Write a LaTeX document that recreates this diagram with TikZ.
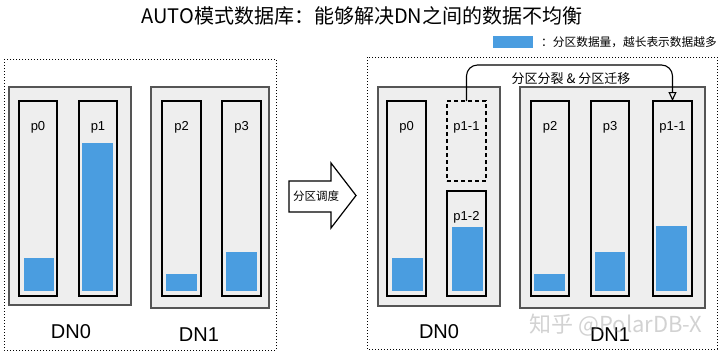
\documentclass[tikz,border=0pt]{standalone}
\usepackage{fontspec}
\setmainfont{Liberation Sans}
\newfontfamily\cjk{Noto Sans CJK SC}
\usetikzlibrary{arrows.meta,calc}
\definecolor{boxfill}{HTML}{EEEEEE}
\definecolor{dnline}{HTML}{555555}
\definecolor{barblue}{HTML}{4A9DE0}
\tikzset{
  outerbox/.style={draw=black, line width=1pt, dash pattern=on 1pt off 2pt},
  dnbox/.style={draw=dnline, fill=boxfill, line width=1.4pt},
  colbox/.style={draw=black, fill=boxfill, line width=1.4pt},
  colboxdash/.style={draw=black, fill=boxfill, line width=1.4pt, dash pattern=on 4pt off 3pt},
  bar/.style={fill=barblue},
  plabel/.style={font=\fontsize{13}{15}\selectfont, inner sep=0pt},
  dnlabel/.style={font=\fontsize{20}{24}\selectfont, inner sep=0pt},
  cjklabel/.style={font=\cjk\fontsize{13}{15}\selectfont, inner sep=0pt},
}
\begin{document}
\begin{tikzpicture}[x=1pt,y=-1pt]
\useasboundingbox (0,0) rectangle (720,354);
\fill[white] (0,0) rectangle (720,354);
% title
\node[font=\cjk\fontsize{20}{24}\selectfont, inner sep=0pt] (title) at (362,16) {AUTO模式数据库：能够解决DN之间的数据不均衡};
% legend
\fill[bar] (493,36) rectangle (533,48);
\node[font=\cjk\fontsize{11.7}{14}\selectfont, inner sep=0pt, anchor=west] (legend) at (541,42) {：分区数据量，越长表示数据越多};

% ---------- left ----------
\draw[outerbox] (4,59) rectangle (276,350);
\draw[dnbox] (9,87) rectangle (131,305);
\draw[dnbox] (151,87) rectangle (269,308);
\draw[colbox] (19,101) rectangle (57,296);
\draw[colbox] (79,101) rectangle (117,296);
\draw[colbox] (162,101) rectangle (201,296);
\draw[colbox] (222,101) rectangle (261,296);
\fill[bar] (24,258) rectangle (54,291);
\fill[bar] (82,143) rectangle (113,291);
\fill[bar] (166,274) rectangle (197,291);
\fill[bar] (226,252) rectangle (257,291);
\node[plabel] (lp0) at (38,127) {p0};
\node[plabel] (lp1) at (98,127) {p1};
\node[plabel] (lp2) at (181.5,127) {p2};
\node[plabel] (lp3) at (241.5,127) {p3};
\node[dnlabel] (ldn0) at (71,332) {DN0};
\node[dnlabel] (ldn1) at (199,335) {DN1};

% ---------- big arrow ----------
\draw[line width=1.2pt, fill=white, line join=miter]
  (289,181) -- (331,181) -- (331,163) -- (356,195.5) -- (331,228) -- (331,212) -- (289,212) -- cycle;
\node[font=\cjk\fontsize{11.5}{14}\selectfont, inner sep=0pt] (sched) at (316,196) {分区调度};

% ---------- right ----------
\draw[outerbox] (367,57) rectangle (717,349);
\draw[dnbox] (378,87) rectangle (500,306);
\draw[dnbox] (520,87) rectangle (705,308);
\node[colbox, anchor=north west, minimum width=39, minimum height=195, inner sep=0pt, outer sep=0pt] (rp0) at (387,101) {};
\node[colboxdash, anchor=north west, minimum width=39, minimum height=80, inner sep=0pt, outer sep=0pt] (rp11d) at (447,101) {};
\node[colbox, anchor=north west, minimum width=39, minimum height=105, inner sep=0pt, outer sep=0pt] (rp12) at (447,191) {};
\node[colbox, anchor=north west, minimum width=38, minimum height=195, inner sep=0pt, outer sep=0pt] (rp2) at (531,101) {};
\node[colbox, anchor=north west, minimum width=38, minimum height=195, inner sep=0pt, outer sep=0pt] (rp3) at (591,101) {};
\node[colbox, anchor=north west, minimum width=39, minimum height=195, inner sep=0pt, outer sep=0pt] (rp11) at (653,101) {};
\fill[bar] (392,258) rectangle (423,291);
\fill[bar] (452,227) rectangle (483,291);
\fill[bar] (534,274) rectangle (565,291);
\fill[bar] (595,252) rectangle (625,291);
\fill[bar] (656,226) rectangle (687,291);
\node[plabel] (rlp0) at (406.5,127) {p0};
\node[plabel] (rlp11d) at (466.5,127) {p1-1};
\node[plabel] (rlp12) at (466.5,217) {p1-2};
\node[plabel] (rlp2) at (550,127) {p2};
\node[plabel] (rlp3) at (610,127) {p3};
\node[plabel] (rlp11) at (672.5,127) {p1-1};
\node[dnlabel] (rdn0) at (439,332) {DN0};
\node[dnlabel] (rdn1) at (610,335) {DN1};

% migration connector
\coordinate (mtop) at (570,65);
\draw[line width=1.1pt, rounded corners=11pt, -{Triangle[open, length=9pt, width=8pt]}]
  (rp11d.north) |- (mtop) -| (rp11.north);
\node[cjklabel] (mlabel) at (571,79) {分区分裂 \& 分区迁移};

% watermark
\node[font=\cjk\fontsize{22}{26}\selectfont, text=gray, opacity=0.35, inner sep=0pt] (wm) at (616,325) {知乎 @PolarDB-X};
\end{tikzpicture}
\end{document}
